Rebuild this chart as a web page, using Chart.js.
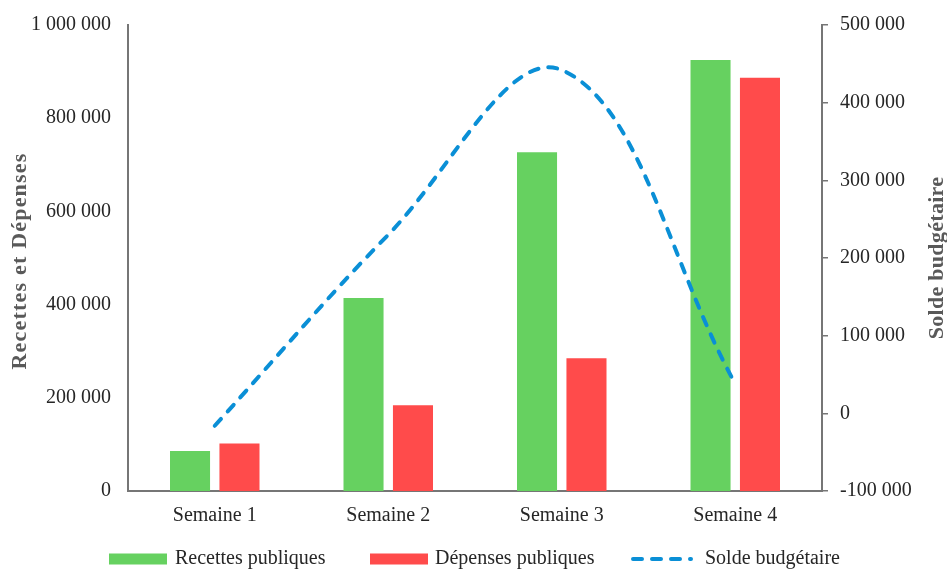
<!DOCTYPE html>
<html lang="fr">
<head>
<meta charset="utf-8">
<title>Recettes, dépenses et solde budgétaire</title>
<script src="https://cdn.jsdelivr.net/npm/chart.js@4/dist/chart.umd.min.js"></script>
<style>
  html, body { margin: 0; padding: 0; background: #ffffff; }
  #wrap { width: 947px; height: 569px; position: relative; }
</style>
</head>
<body>
<div id="wrap"><canvas id="chart" width="947" height="569"></canvas></div>
<script>
// Weekly figures
const semaines = ['Semaine 1', 'Semaine 2', 'Semaine 3', 'Semaine 4'];
const recettes = [86000, 414000, 727000, 925000];
const depenses = [102000, 184000, 285000, 887000];
const solde = [-16000, 230000, 442000, 38000];

// Axis settings
const gaucheMin = 0, gaucheMax = 1000000, gauchePas = 200000;
const droiteMin = -100000, droiteMax = 500000, droitePas = 100000;

const titreGauche = 'Recettes et Dépenses';
const titreDroite = 'Solde budgétaire';
const legendes = ['Recettes publiques', 'Dépenses publiques', 'Solde budgétaire'];

const SERIF = "'Liberation Serif', 'Times New Roman', serif";
const VERT = '#66D160';
const ROUGE = '#FF4B4B';
const BLEU = '#0A8FD6';
const AXE = '#767676';
const TEXTE = '#262626';
const TITRE = '#595959';

function espaceMilliers(v) {
  const s = String(Math.abs(Math.round(v))).replace(/\B(?=(\d{3})+(?!\d))/g, ' ');
  return (v < 0 ? '-' : '') + s;
}

function titreVertical(ctx, texte, x, y, espacement) {
  ctx.save();
  ctx.fillStyle = TITRE;
  ctx.font = 'bold 22px ' + SERIF;
  if ('letterSpacing' in ctx) ctx.letterSpacing = espacement + 'px';
  ctx.textAlign = 'center';
  ctx.textBaseline = 'middle';
  ctx.translate(x, y);
  ctx.rotate(-Math.PI / 2);
  ctx.fillText(texte, 0, 0);
  ctx.restore();
}

// Rotated axis titles and bottom legend
const decor = {
  id: 'decor',
  afterDraw(chart) {
    const ctx = chart.ctx;
    const a = chart.chartArea;
    const midY = (a.top + a.bottom) / 2;
    titreVertical(ctx, titreGauche, 20, midY + 3, 1.2);
    titreVertical(ctx, titreDroite, chart.width - 10, midY, 0.3);

    // legend
    const y = chart.height - 10;
    const colonne = 261;
    const x0 = a.left - 19;
    ctx.save();
    ctx.font = '20px ' + SERIF;
    ctx.textBaseline = 'middle';
    ctx.textAlign = 'left';
    ctx.fillStyle = VERT;
    ctx.fillRect(x0, y - 5.5, 58, 11);
    ctx.fillStyle = TEXTE;
    ctx.fillText(legendes[0], x0 + 66, y);
    const x1 = x0 + colonne;
    ctx.fillStyle = ROUGE;
    ctx.fillRect(x1, y - 5.5, 58, 11);
    ctx.fillStyle = TEXTE;
    ctx.fillText(legendes[1], x1 + 65, y);
    const x2 = x0 + colonne * 2;
    ctx.strokeStyle = BLEU;
    ctx.lineWidth = 4;
    ctx.lineCap = 'round';
    ctx.setLineDash([9, 10]);
    ctx.beginPath();
    ctx.moveTo(x2 + 2, y);
    ctx.lineTo(x2 + 60, y);
    ctx.stroke();
    ctx.setLineDash([]);
    ctx.fillText(legendes[2], x2 + 74, y);
    ctx.restore();
  }
};

new Chart(document.getElementById('chart'), {
  data: {
    labels: semaines,
    datasets: [
      {
        type: 'line',
        label: legendes[2],
        data: solde,
        yAxisID: 'y1',
        borderColor: BLEU,
        borderWidth: 4,
        borderDash: [9, 10],
        borderCapStyle: 'round',
        tension: 0.38,
        pointRadius: 0,
        fill: false,
        order: 0
      },
      {
        type: 'bar',
        label: legendes[0],
        data: recettes,
        yAxisID: 'y',
        backgroundColor: VERT,
        categoryPercentage: 0.57,
        barPercentage: 0.81,
        order: 1
      },
      {
        type: 'bar',
        label: legendes[1],
        data: depenses,
        yAxisID: 'y',
        backgroundColor: ROUGE,
        categoryPercentage: 0.57,
        barPercentage: 0.81,
        order: 1
      }
    ]
  },
  options: {
    responsive: false,
    animation: false,
    layout: { padding: { top: 25, left: 0, right: 0, bottom: 0 } },
    plugins: {
      legend: { display: false },
      tooltip: { enabled: false }
    },
    scales: {
      x: {
        grid: { display: false },
        border: { display: true, color: AXE, width: 2 },
        ticks: { color: TEXTE, font: { family: SERIF, size: 20 }, padding: 5 },
        afterFit(s) { s.height = 78; }
      },
      y: {
        position: 'left',
        min: gaucheMin,
        max: gaucheMax,
        grid: { display: false },
        border: { display: true, color: AXE, width: 2 },
        ticks: {
          stepSize: gauchePas,
          color: TEXTE,
          font: { family: SERIF, size: 20 },
          padding: 9,
          callback: v => espaceMilliers(v)
        },
        afterFit(s) { s.width = 128; }
      },
      y1: {
        position: 'right',
        min: droiteMin,
        max: droiteMax,
        grid: { display: true, drawOnChartArea: false, drawTicks: true, tickLength: 6, color: AXE, lineWidth: 1.5 },
        border: { display: true, color: AXE, width: 2 },
        ticks: {
          stepSize: droitePas,
          color: TEXTE,
          font: { family: SERIF, size: 20 },
          padding: 12,
          callback: v => espaceMilliers(v)
        },
        afterFit(s) { s.width = 125; }
      }
    }
  },
  plugins: [decor]
});
</script>
</body>
</html>
